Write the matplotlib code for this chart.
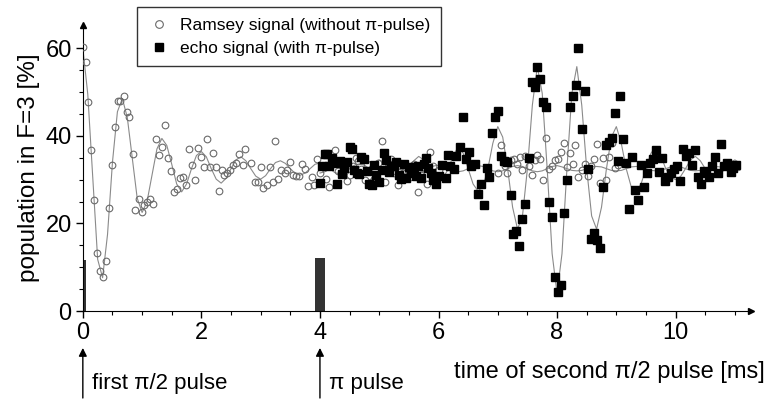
import numpy as np
import matplotlib
matplotlib.use("Agg")
import matplotlib.pyplot as plt

plt.rcParams['font.family'] = ['Liberation Sans', 'DejaVu Sans']

# Ramsey signal (open circles)
ramsey_t = [0.0, 0.045, 0.09, 0.14, 0.185, 0.236, 0.287, 0.337, 0.388, 0.438,
            0.49, 0.54, 0.59, 0.635, 0.686, 0.737, 0.787, 0.838, 0.888, 0.94,
            0.99, 1.04, 1.09, 1.14, 1.19, 1.24, 1.29, 1.34, 1.39, 1.44,
            1.49, 1.54, 1.59, 1.64, 1.69, 1.74, 1.79, 1.84, 1.89, 1.94,
            1.99, 2.05, 2.1, 2.15, 2.2, 2.24, 2.29, 2.34, 2.38, 2.43,
            2.48, 2.53, 2.59, 2.64, 2.70, 2.74, 2.84, 2.9, 2.96, 3.0,
            3.04, 3.1, 3.15, 3.2, 3.25, 3.29, 3.35, 3.41, 3.45, 3.5,
            3.55, 3.6, 3.64, 3.7, 3.74, 3.8, 3.86, 3.9, 3.95,
            4.0, 4.05, 4.1, 4.15, 4.2, 4.26, 4.3, 4.35, 4.4, 4.45,
            4.5, 4.55, 4.6, 4.65, 4.7, 4.76, 4.8, 4.86, 4.92, 4.98,
            5.05, 5.1, 5.15, 5.2, 5.25, 5.32, 5.36, 5.4, 5.48, 5.52,
            5.58, 5.65, 5.7, 5.74, 5.8, 5.85, 5.9, 5.95, 6.0,
            7.0, 7.06, 7.12, 7.16, 7.22, 7.28, 7.33, 7.37, 7.41, 7.46,
            7.52, 7.57, 7.62, 7.67, 7.72, 7.76, 7.82, 7.87, 7.92, 7.97,
            8.02, 8.07, 8.12, 8.17, 8.21, 8.27, 8.31, 8.36, 8.42, 8.47,
            8.52, 8.57, 8.62, 8.67, 8.72, 8.77, 8.82, 8.87, 8.93, 8.97, 9.03]
ramsey_y = [60.2, 56.8, 47.7, 36.8, 25.3, 13.2, 9.2, 7.8, 11.4, 23.6,
            33.3, 42.1, 47.9, 47.9, 49.2, 45.4, 44.4, 35.8, 23.1, 25.5,
            22.7, 24.3, 25.0, 25.6, 24.4, 39.3, 35.6, 37.4, 42.4, 34.9,
            31.9, 27.1, 27.8, 30.4, 30.5, 28.7, 36.9, 33.3, 29.8, 37.2,
            35.2, 32.8, 39.2, 32.9, 36.0, 32.8, 27.5, 32.2, 31.0, 31.4,
            32.2, 33.3, 33.7, 35.8, 33.3, 36.9, 33.7, 29.5, 29.4, 32.8,
            28.0, 28.8, 32.8, 29.5, 38.8, 30.1, 32.2, 31.6, 32.2, 34.1,
            31.1, 30.9, 30.8, 33.5, 32.4, 28.5, 30.7, 28.8, 34.6,
            31.5, 33.0, 30.1, 28.4, 33.5, 36.8, 32.0, 31.5, 34.0, 29.6,
            31.1, 33.0, 34.9, 34.3, 32.5, 30.0, 33.5, 29.4, 30.1, 33.9,
            38.9, 29.5, 33.9, 34.6, 31.5, 28.8, 33.0, 31.4, 32.3, 30.5,
            33.6, 27.2, 31.0, 32.9, 28.9, 36.4, 33.0, 29.5, 32.2,
            31.4, 37.9, 33.0, 31.4, 34.5, 34.6, 33.5, 35.2, 32.2, 35.3,
            33.0, 31.1, 34.4, 35.7, 34.6, 29.9, 39.6, 32.4, 33.1, 34.4,
            34.6, 36.2, 38.3, 32.8, 36.0, 33.6, 37.9, 30.7, 32.2, 33.5,
            30.9, 33.1, 34.6, 38.1, 29.2, 34.9, 29.8, 35.1, 38.3, 32.7, 33.3]

# echo signal (filled squares)
echo_t = [4.0, 4.04, 4.08, 4.12, 4.16, 4.2, 4.25, 4.29, 4.33, 4.37,
          4.41, 4.45, 4.5, 4.54, 4.58, 4.62, 4.66, 4.7, 4.75, 4.79,
          4.83, 4.87, 4.91, 4.95, 5.0, 5.04, 5.08, 5.12, 5.16, 5.2,
          5.25, 5.29, 5.33, 5.37, 5.41, 5.45, 5.5, 5.54, 5.58, 5.62,
          5.66, 5.7, 5.75, 5.79, 5.83, 5.87, 5.91, 5.95,
          6.0, 6.06, 6.12, 6.16, 6.2, 6.26, 6.3, 6.36, 6.41, 6.46,
          6.51, 6.55, 6.61, 6.66, 6.71, 6.76, 6.81, 6.86, 6.91, 6.96,
          7.01, 7.06, 7.11, 7.16, 7.22, 7.26, 7.31, 7.36, 7.41, 7.46,
          7.52, 7.57, 7.62, 7.67, 7.72, 7.76, 7.81, 7.86, 7.91, 7.97,
          8.02, 8.07, 8.12, 8.17, 8.22, 8.27, 8.32, 8.36, 8.42, 8.47,
          8.52, 8.57, 8.62, 8.67, 8.72, 8.77, 8.82, 8.87, 8.92, 8.97,
          9.02, 9.07, 9.12, 9.17, 9.22, 9.27, 9.32, 9.37, 9.42, 9.47,
          9.52, 9.57, 9.62, 9.67, 9.72, 9.77, 9.82, 9.87, 9.92, 9.97,
          10.02, 10.07, 10.12, 10.18, 10.22, 10.27, 10.32, 10.38, 10.42, 10.48,
          10.52, 10.57, 10.62, 10.67, 10.72, 10.77, 10.82, 10.87, 10.93, 10.97, 11.02]
echo_y = [29.3, 33.1, 35.8, 35.9, 33.0, 35.0, 33.7, 28.9, 34.2, 31.2,
          32.6, 34.1, 37.5, 37.0, 32.2, 31.5, 31.3, 35.2, 34.7, 32.0,
          28.9, 28.7, 33.3, 31.0, 29.5, 32.3, 36.0, 34.4, 31.8, 33.2,
          33.2, 34.0, 31.0, 30.2, 33.5, 30.4, 32.9, 31.4, 32.8, 30.8,
          33.0, 30.4, 33.5, 35.0, 32.7, 31.5, 30.0, 29.0,
          30.8, 33.3, 30.3, 35.6, 33.0, 32.4, 35.4, 37.5, 44.2, 34.6,
          36.3, 33.1, 33.5, 26.6, 28.9, 24.1, 32.6, 30.7, 40.6, 44.4,
          45.7, 35.5, 34.2, 34.0, 26.4, 17.6, 18.2, 14.9, 21.1, 24.4,
          35.0, 52.2, 51.1, 55.8, 53.0, 47.8, 46.6, 24.9, 21.4, 7.8,
          4.3, 6.0, 22.3, 29.9, 46.6, 49.1, 51.6, 60.0, 41.5, 50.2,
          32.4, 16.4, 17.9, 16.2, 14.3, 28.2, 37.9, 38.7, 39.4, 45.3,
          34.3, 49.1, 39.2, 33.7, 23.4, 35.1, 27.6, 25.3, 33.3, 28.2,
          31.4, 33.9, 34.7, 36.8, 31.8, 35.0, 29.7, 30.7, 31.6, 32.4,
          33.1, 29.7, 37.0, 35.4, 36.0, 33.3, 36.8, 30.7, 28.9, 32.0,
          31.4, 30.7, 33.1, 35.2, 31.4, 38.1, 33.1, 33.9, 31.8, 32.6, 33.3]

# fitted curves, read every 1/12 ms
ramsey_fit = [60.0, 49.5, 30.5, 11.8, 7.6, 17.5, 34.0, 45.5, 48.5, 44.2,
              35.0, 25.8, 22.5, 25.0, 31.0, 37.0, 39.4, 37.8, 33.5, 29.0,
              27.2, 29.0, 32.5, 35.5, 36.4, 35.2, 32.5, 30.1, 29.2, 30.3,
              32.5, 34.5, 35.2, 34.3, 32.5, 30.8, 30.1, 30.9, 32.5, 33.9,
              34.3, 33.7, 32.5, 31.4, 31.0, 31.5, 32.5, 33.5, 33.8,
              33.4, 32.5, 31.6, 31.3, 31.6, 32.5, 33.3, 33.6, 33.3, 32.5,
              31.7, 31.4, 31.8, 32.5, 33.2, 33.5, 33.2, 32.5, 31.8, 31.6,
              31.9, 32.5, 33.1, 33.3,
              33.0, 32.5, 32.0, 31.8, 32.0, 32.5, 33.0, 33.2,
              33.0, 32.5, 32.0, 31.8, 32.0, 32.5, 33.0, 33.2,
              33.0, 32.5, 32.0, 31.8, 32.0, 32.5, 33.0, 33.2,
              32.9, 32.5, 32.1, 32.0, 32.1, 32.5, 32.9, 33.0,
              32.9, 32.5, 32.1, 32.0, 32.1, 32.5, 32.9, 33.0,
              32.9, 32.5, 32.1, 32.0, 32.1, 32.5, 32.9, 33.0,
              32.9, 32.5, 32.1, 32.0, 32.1, 32.5, 32.9, 33.0,
              32.9, 32.5, 32.1, 32.0, 32.1]
echo_fit = [31.5, 31.8, 32.5, 33.3, 33.7, 33.3, 32.5, 31.6, 31.2, 31.5,
            32.5, 33.8, 34.5, 33.9, 32.5, 31.2, 30.7, 31.1, 32.5, 34.3,
            35.3, 34.5, 32.5, 30.7, 30.0, 30.5, 32.5, 35.5, 37.5, 36.0,
            32.5, 29.0, 27.4, 28.4, 32.5, 38.3, 42.1, 39.7, 32.5, 23.7,
            18.7, 21.7, 32.5, 47.0, 55.8, 49.7, 32.5, 13.1, 4.0,
            13.1, 32.5, 49.7, 55.8, 47.0, 32.5, 21.7, 18.7, 23.7, 32.5,
            39.7, 42.1, 38.3, 32.5, 28.4, 27.4, 29.0, 32.5, 36.0, 37.5,
            35.5, 32.5, 30.5, 30.0, 30.7, 32.5, 34.5, 35.3, 34.3, 32.5,
            31.1, 30.7, 31.2, 32.5, 33.9, 34.5, 33.8]

# excitation pulses (bars)
pulse_t = [0.03, 4.0]
pulse_h = [11.6, 12.1]
pulse_w = [0.06, 0.17]

fig = plt.figure(figsize=(7.67, 4.0), dpi=100)
ax = fig.add_axes([0.108, 0.2225, 0.871, 0.715])

ramsey_fit_t = np.arange(len(ramsey_fit)) / 12
echo_fit_t = 4 + np.arange(len(echo_fit)) / 12

ax.bar(pulse_t, pulse_h, width=pulse_w, color='#333333', zorder=1)
ax.plot(ramsey_fit_t, ramsey_fit, color='#8a8a8a', lw=0.8, zorder=2)
ax.plot(echo_fit_t, echo_fit, color='#8a8a8a', lw=0.8, zorder=2)
ax.plot(ramsey_t, ramsey_y, 'o', ms=4.8, mfc='none', mec='#6a6a6a', mew=0.8,
        zorder=3, label=u'Ramsey signal (without \u03c0-pulse)')
ax.plot(echo_t, echo_y, 's', ms=5.2, color='black', zorder=4,
        label=u'echo signal (with \u03c0-pulse)')

ax.set_xlim(0, 11.27)
ax.set_ylim(0, 65.3)
ax.set_xticks([0, 2, 4, 6, 8, 10])
ax.set_xticks(np.arange(0, 11.1, 0.5), minor=True)
ax.set_yticks([0, 20, 40, 60])
ax.set_yticks(np.arange(0, 61, 5), minor=True)
ax.tick_params(labelsize=17, length=5, width=1, pad=3)
ax.tick_params(which='minor', length=3, width=0.8)
ax.spines['top'].set_visible(False)
ax.spines['right'].set_visible(False)
ax.plot(1, 0, '>k', ms=5, transform=ax.transAxes, clip_on=False)
ax.plot(0, 1, '^k', ms=5, transform=ax.transAxes, clip_on=False)
ax.set_ylabel('population in F=3 [%]', fontsize=17.5, labelpad=4)

ax.text(11.5, -13.9, u'time of second \u03c0/2 pulse [ms]', fontsize=17,
        ha='right', va='center', clip_on=False)
for xp, lab in [(0, u'first \u03c0/2 pulse'), (4, u'\u03c0 pulse')]:
    ax.annotate('', xy=(xp, -7.8), xytext=(xp, -20.5),
                arrowprops=dict(arrowstyle='-|>', color='black', lw=1,
                                mutation_scale=12),
                annotation_clip=False)
    ax.text(xp + 0.15, -16.6, lab, fontsize=16, ha='left', va='center',
            clip_on=False)

leg = ax.legend(loc='upper left', bbox_to_anchor=(0.081, 1.062), fontsize=12.5,
                frameon=True, fancybox=False, edgecolor='black',
                handletextpad=0.6, borderpad=0.6, labelspacing=0.45,
                handlelength=1.3, borderaxespad=0, markerscale=1.15)
leg.get_frame().set_linewidth(1)

fig.savefig('out.png', dpi=100)
